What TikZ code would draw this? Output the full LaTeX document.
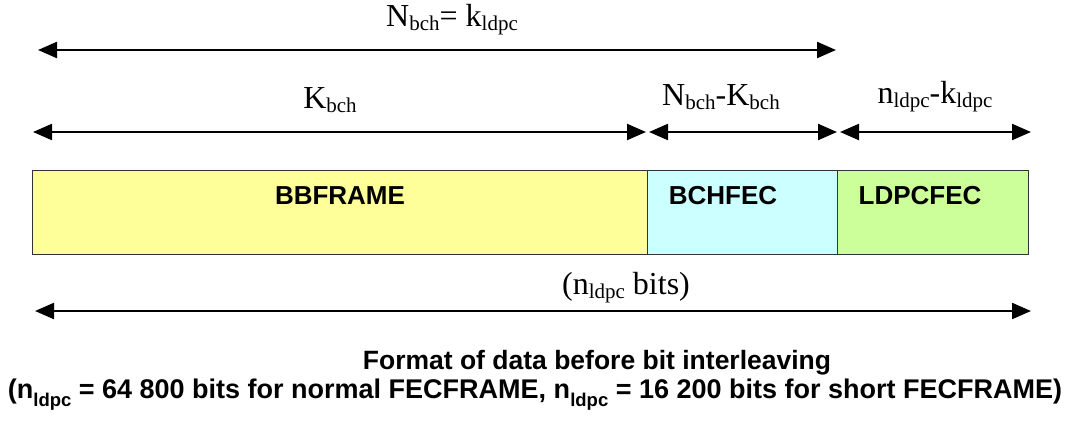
\documentclass[tikz,border=0pt]{standalone}
\usepackage{fontspec}
\setmainfont{Liberation Serif}
\setsansfont{Liberation Sans}
\usetikzlibrary{arrows.meta}

% subscript for the serif dimension labels
\newcommand{\lsub}[1]{\raisebox{-0.28ex}{\fontsize{21}{21}\selectfont #1}}
% subscript for the bold sans caption
\newcommand{\csub}[1]{\raisebox{-0.55ex}{\fontsize{18.5}{18.5}\selectfont #1}}

\definecolor{bbyellow}{HTML}{FFFF99}
\definecolor{bchcyan}{HTML}{CCFFFF}
\definecolor{ldpcgreen}{HTML}{CCFF99}
\definecolor{edge}{HTML}{333333}

\tikzset{
  field/.style={draw=edge, line width=1.4pt, anchor=north west, inner sep=0pt},
  fieldtxt/.style={font=\sffamily\bfseries\fontsize{26}{26}\selectfont, inner sep=0pt},
  dimline/.style={line width=2.2pt, {Triangle[length=19pt,width=16pt]}-{Triangle[length=19pt,width=16pt]}},
  dimtxt/.style={font=\fontsize{32}{32}\selectfont, inner sep=0pt},
  captxt/.style={font=\sffamily\bfseries\fontsize{26.5}{26.5}\selectfont, inner sep=0pt}
}

\begin{document}
\begin{tikzpicture}[x=1pt, y=-1pt]
\useasboundingbox (0,0) rectangle (1072,421);

% frame fields
\node[field, fill=bbyellow,  minimum width=615pt, minimum height=84pt] (bb)   at (32,170)  {};
\node[field, fill=bchcyan,   minimum width=190pt, minimum height=84pt] (bch)  at (647,170) {};
\node[field, fill=ldpcgreen, minimum width=191pt, minimum height=84pt] (ldpc) at (837,170) {};

\node[fieldtxt] (bbt)   at (340,196) {BBFRAME};
\node[fieldtxt] (bcht)  at (723,196) {BCHFEC};
\node[fieldtxt] (ldpct) at (920,196) {LDPCFEC};

% dimension arrows
\coordinate (nl) at (38,50);   \coordinate (nr) at (836,50);
\coordinate (kl) at (33,132);  \coordinate (kr) at (646,132);
\coordinate (pl) at (649,132); \coordinate (pr) at (837,132);
\coordinate (ql) at (840,132); \coordinate (qr) at (1031,132);
\coordinate (fl) at (35,311);  \coordinate (fr) at (1031,311);

\draw[dimline] (nl) -- (nr);
\draw[dimline] (kl) -- (kr);
\draw[dimline] (pl) -- (pr);
\draw[dimline] (ql) -- (qr);
\draw[dimline] (fl) -- (fr);

\node[dimtxt] (nlab) at (452,20)  {N\lsub{bch}= k\lsub{ldpc}};
\node[dimtxt] (klab) at (330,100) {K\lsub{bch}};
\node[dimtxt] (plab) at (721,97)  {N\lsub{bch}-K\lsub{bch}};
\node[dimtxt] (qlab) at (935,97)  {n\lsub{ldpc}-k\lsub{ldpc}};
\node[dimtxt] (flab) at (626,288) {(n\lsub{ldpc} bits)};

% caption
\node[captxt] (cap1) at (597,363) {Format of data before bit interleaving};
\node[captxt, font=\sffamily\bfseries\fontsize{27}{27}\selectfont] (cap2) at (535,395)
  {(n\csub{ldpc} = 64 800 bits for normal FECFRAME, n\csub{ldpc} = 16 200 bits for short FECFRAME)};
\end{tikzpicture}
\end{document}
